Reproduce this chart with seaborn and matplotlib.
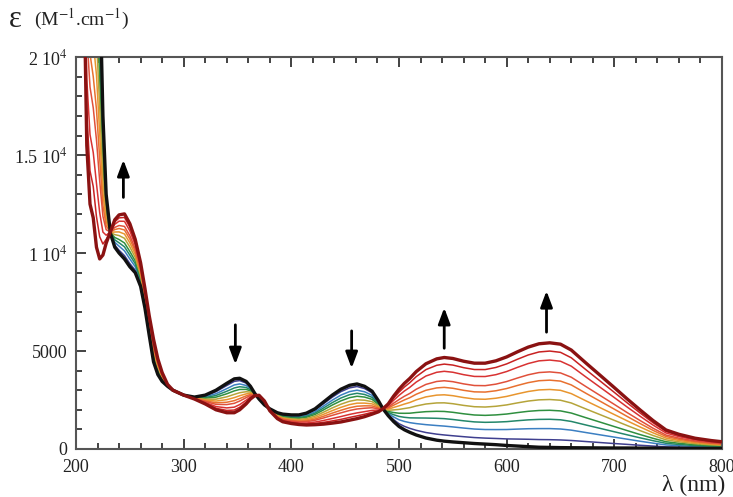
import matplotlib
matplotlib.use("Agg")
import matplotlib.pyplot as plt
from matplotlib.ticker import MultipleLocator
import seaborn as sns
import numpy as np

# wavelength grid (nm)
wavelength = [205, 208, 210, 213, 216, 219, 222, 225, 228, 232, 236, 240, 245, 250, 255,
              260, 264, 268, 272, 276, 280, 285, 290, 300, 310, 320, 330, 340, 347, 352,
              358, 362, 366, 370, 375, 380, 387, 392, 400, 407, 414, 422, 430, 438, 446,
              454, 461, 468, 475, 481, 485, 490, 495, 500, 505, 510, 516, 525, 535, 542,
              550, 560, 570, 580, 590, 600, 610, 620, 630, 640, 650, 660, 674, 686, 699,
              712, 724, 736, 748, 760, 775, 790, 800]

# starting spectrum (black)
eps_start = [40000, 38000, 36000, 34000, 32000, 30000, 24000, 17000, 13000, 11000, 10300, 10000, 9700, 9300, 9000,
             8300, 7200, 5800, 4450, 3800, 3450, 3200, 3000, 2750, 2650, 2750, 3000, 3350, 3580, 3610,
             3450, 3200, 2840, 2550, 2250, 2050, 1850, 1780, 1740, 1740, 1830, 2050, 2400, 2750, 3050,
             3250, 3320, 3200, 2950, 2450, 2060, 1700, 1400, 1150, 980, 850, 714, 560, 450, 400,
             360, 320, 280, 250, 220, 180, 150, 120, 90, 80, 70, 65, 60, 55, 50,
             50, 45, 45, 40, 40, 35, 30, 30]

# final spectrum (dark red)
eps_end = [30000, 22000, 15500, 12500, 11800, 10300, 9700, 9900, 10500, 11100, 11700, 11950, 12000, 11500, 10700,
           9500, 8200, 6800, 5600, 4600, 3900, 3300, 3000, 2750, 2550, 2300, 2000, 1850, 1850, 2000,
           2300, 2550, 2720, 2740, 2450, 1950, 1550, 1390, 1300, 1250, 1225, 1240, 1270, 1320, 1380,
           1470, 1550, 1650, 1780, 1900, 2050, 2300, 2700, 3050, 3350, 3600, 3950, 4350, 4600, 4670,
           4620, 4480, 4380, 4380, 4500, 4700, 4960, 5200, 5370, 5420, 5350, 5050, 4370, 3800, 3180,
           2550, 1990, 1450, 970, 750, 550, 430, 370]

fraction = [0.0, 0.074, 0.18, 0.269, 0.355, 0.458, 0.554, 0.643, 0.722, 0.835, 0.921, 1.0]
colors = ["#111111", "#3f3f8f", "#3b7fc2", "#23876a", "#2f8f3f", "#b5a43a",
          "#e8952e", "#e8702f", "#e0503a", "#d83232", "#c82222", "#8a1212"]
widths = [2.4, 1.1, 1.1, 1.1, 1.1, 1.1, 1.1, 1.1, 1.1, 1.1, 1.1, 2.4]

# arrows: wavelength, tail, head
arrow_x = [244, 348, 456, 542, 637]
arrow_tail = [12700, 6480, 6170, 5000, 5820]
arrow_head = [14900, 4180, 3980, 7350, 8210]

sns.set_theme(style="ticks")
plt.rcParams['font.family'] = ['Liberation Serif', 'DejaVu Serif']
plt.rcParams['mathtext.fontset'] = 'stix'

fig = plt.figure(figsize=(7.33, 4.97), dpi=100)
ax = fig.add_axes([0.1037, 0.0966, 0.8813, 0.7884])

wl = np.array(wavelength)
a = np.array(eps_start)
b = np.array(eps_end)
for f, c, w in zip(fraction, colors, widths):
    sns.lineplot(x=wl, y=a + f * (b - a), color=c, lw=w, ax=ax, zorder=3 if w > 2 else 2)

for x, t, h in zip(arrow_x, arrow_tail, arrow_head):
    ax.annotate("", xy=(x, h), xytext=(x, t),
                arrowprops=dict(arrowstyle="-|>,head_length=0.8,head_width=0.3",
                                color="black", lw=2))

ax.set_xlim(200, 800)
ax.set_ylim(0, 20000)
ax.xaxis.set_major_locator(MultipleLocator(100))
ax.xaxis.set_minor_locator(MultipleLocator(20))
ax.yaxis.set_minor_locator(MultipleLocator(1000))
ax.set_yticks([0, 5000, 10000, 15000, 20000])
ax.set_yticklabels(["0", "5000", r"1 10$^4$", r"1.5 10$^4$", r"2 10$^4$"])
ax.tick_params(which="both", direction="in", top=True, right=False,
               labelsize=13, colors="#222222", width=1.2)
ax.tick_params(which="major", length=7)
ax.tick_params(which="minor", length=4)
ax.tick_params(axis="x", pad=7)
ax.tick_params(axis="y", pad=6)
for s in ax.spines.values():
    s.set_color("#555555")
    s.set_linewidth(1.5)
ax.set_xlabel("")
ax.set_ylabel("")

fig.text(0.012, 0.945, "ε", fontsize=22, color="#222222")
fig.text(0.046, 0.948, r"(M$^{-1}$.cm$^{-1}$)", fontsize=14, color="#222222")
fig.text(0.99, 0.012, "λ (nm)", fontsize=17, color="#222222", ha="right")

fig.savefig("out.png", dpi=100)
